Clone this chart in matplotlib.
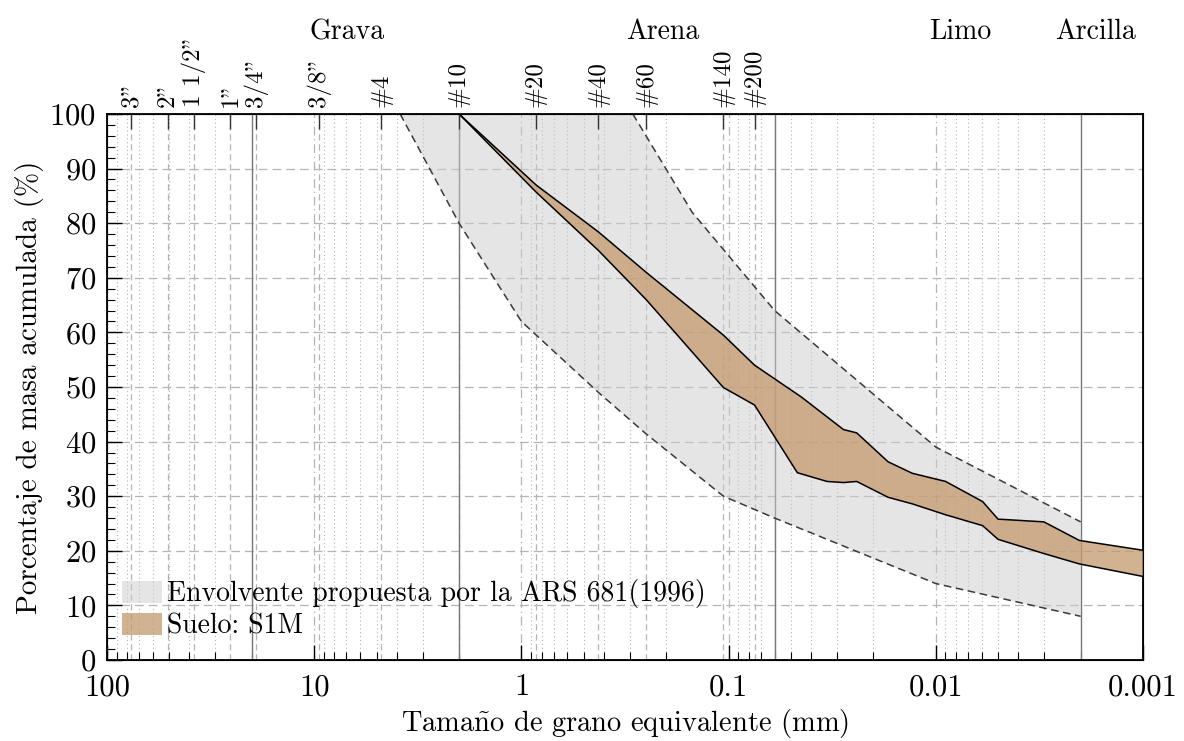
import numpy as np
import matplotlib
matplotlib.use("Agg")
import matplotlib.pyplot as plt
from matplotlib.patches import Patch
from matplotlib.ticker import FixedLocator, FixedFormatter, NullFormatter, MultipleLocator, LogLocator

plt.rcParams['font.family'] = 'serif'
plt.rcParams['font.serif'] = ['cmr10', 'DejaVu Serif']
plt.rcParams['mathtext.fontset'] = 'cm'
plt.rcParams['axes.formatter.use_mathtext'] = True

# envolvente ARS 681 (1996)
env_d_inf = [3.85, 2.0, 1.0, 0.425, 0.25, 0.106, 0.06, 0.01, 0.002]
env_p_inf = [100, 80, 62, 49.0, 41.4, 30, 26, 14, 8]
env_d_sup = [0.29, 0.15, 0.06, 0.01, 0.002]
env_p_sup = [100, 82, 64, 39, 25.3]

# suelo S1M (limites superior e inferior)
soil_d_sup = [2.0, 0.85, 0.425, 0.25, 0.106, 0.075, 0.0447, 0.0279, 0.0241, 0.017,
              0.013, 0.00897, 0.00594, 0.00501, 0.00301, 0.00203, 0.001]
soil_p_sup = [100, 87, 78.4, 71, 59.5, 54, 48.2, 42.2, 41.6, 36.3,
              34.2, 32.7, 29.0, 25.8, 25.3, 21.9, 20.1]
soil_d_inf = [2.0, 0.85, 0.425, 0.25, 0.106, 0.075, 0.0466, 0.0335, 0.0279, 0.0241,
              0.017, 0.013, 0.00897, 0.00594, 0.00501, 0.00301, 0.00203, 0.001]
soil_p_inf = [100, 85.7, 75, 66, 49.9, 46.7, 34.3, 32.7, 32.5, 32.7,
              29.8, 28.6, 26.6, 24.6, 22.1, 19.5, 17.6, 15.3]

# tamices
sieve_d = [76.2, 50.8, 38.1, 25.4, 19.05, 9.525, 4.75, 2.0, 0.85, 0.425, 0.25, 0.106, 0.075]
sieve_lbl = ['3"', '2"', '1 1/2"', '1"', '3/4"', '3/8"', '#4', '#10', '#20', '#40', '#60', '#140', '#200']

# limites entre fracciones
bound_d = [20, 2, 0.06, 0.002]
frac_lbl = ['Grava', 'Arena', 'Limo', 'Arcilla']
frac_x = [6.95, 0.2075, 0.00764, 0.0017]

dec_d = [100, 10, 1, 0.1, 0.01, 0.001]
dec_lbl = ['100', '10', '1', '0.1', '0.01', '0.001']

fig = plt.figure(figsize=(11.84, 7.41), dpi=100)
ax = fig.add_axes([0.0904, 0.1093, 0.8750, 0.7369])
ax.set_xscale('log')
ax.set_xlim(100, 0.001)
ax.set_ylim(0, 100)

gcol = '#b4b4b4'
ax.xaxis.set_major_locator(FixedLocator(dec_d))
ax.xaxis.set_major_formatter(FixedFormatter(dec_lbl))
ax.xaxis.set_minor_locator(LogLocator(base=10, subs=np.arange(2, 10)))
ax.xaxis.set_minor_formatter(NullFormatter())
ax.yaxis.set_major_locator(MultipleLocator(10))
ax.yaxis.set_minor_locator(MultipleLocator(2))

ax.xaxis.grid(True, which='minor', linestyle=(0, (1, 2.5)), color=gcol, lw=0.8)
ax.xaxis.grid(True, which='major', linestyle=(0, (7, 3, 1, 3)), color=gcol, lw=0.9)
ax.yaxis.grid(True, which='major', linestyle=(0, (7, 4)), color=gcol, lw=0.9)
for d in sieve_d:
    ax.axvline(d, color=gcol, lw=0.9, ls=(0, (5, 3)), zorder=0.6)
for d in bound_d:
    ax.axvline(d, color='#777777', lw=1.0, zorder=0.7)
ax.set_axisbelow(True)

# envolvente
ex = np.concatenate([env_d_inf, env_d_sup[::-1]])
ey = np.concatenate([env_p_inf, env_p_sup[::-1]])
ax.fill(ex, ey, color='#cccccc', alpha=0.5, lw=0, zorder=1)
ax.plot(env_d_inf, env_p_inf, color='#3a3a3a', lw=1.1, ls=(0, (5, 3)), zorder=2)
ax.plot(env_d_sup, env_p_sup, color='#3a3a3a', lw=1.1, ls=(0, (5, 3)), zorder=2)

# suelo
sx = np.concatenate([soil_d_sup, soil_d_inf[::-1]])
sy = np.concatenate([soil_p_sup, soil_p_inf[::-1]])
ax.fill(sx, sy, color='#c49a6c', alpha=0.75, lw=0, zorder=3)
ax.plot(soil_d_sup, soil_p_sup, color='black', lw=1.1, zorder=4)
ax.plot(soil_d_inf, soil_p_inf, color='black', lw=1.1, zorder=4)

ax.tick_params(which='major', direction='in', length=11, width=1, labelsize=22, pad=8)
ax.tick_params(axis='x', which='major', pad=10)
ax.tick_params(which='minor', direction='in', length=5.5, width=0.8)
ax.tick_params(axis='x', which='both', top=False)
for s in ax.spines.values():
    s.set_linewidth(1.3)

ax.set_xlabel('Tama$\\tilde{\\mathrm{n}}$o de grano equivalente (mm)', fontsize=20.5, labelpad=4)
ax.set_ylabel('Porcentaje de masa acumulada (%)', fontsize=21, labelpad=4)

# eje superior con tamices
ax2 = ax.twiny()
ax2.set_xscale('log')
ax2.set_xlim(ax.get_xlim())
ax2.xaxis.set_major_locator(FixedLocator(sieve_d))
ax2.xaxis.set_major_formatter(FixedFormatter(sieve_lbl))
ax2.xaxis.set_minor_locator(FixedLocator([]))
ax2.tick_params(axis='x', which='major', direction='in', length=11, width=1, color='#333333',
                labelsize=18, labelrotation=90, pad=5)

tr = ax.get_xaxis_transform()
for x, t in zip(frac_x, frac_lbl):
    ax.text(x, 1.15, t, transform=tr, ha='center', va='center', fontsize=20)

handles = [Patch(facecolor='#cccccc', alpha=0.5, edgecolor='none'),
           Patch(facecolor='#c49a6c', alpha=0.75, edgecolor='none')]
ax.legend(handles, ['Envolvente propuesta por la ARS 681(1996)', 'Suelo: S1M'],
          loc='lower left', frameon=False, fontsize=20, handlelength=1.45, handleheight=0.85,
          handletextpad=0.15, labelspacing=0.15, borderpad=0, borderaxespad=0,
          bbox_to_anchor=(0.0145, 0.038))

fig.savefig('out.png', dpi=100)
